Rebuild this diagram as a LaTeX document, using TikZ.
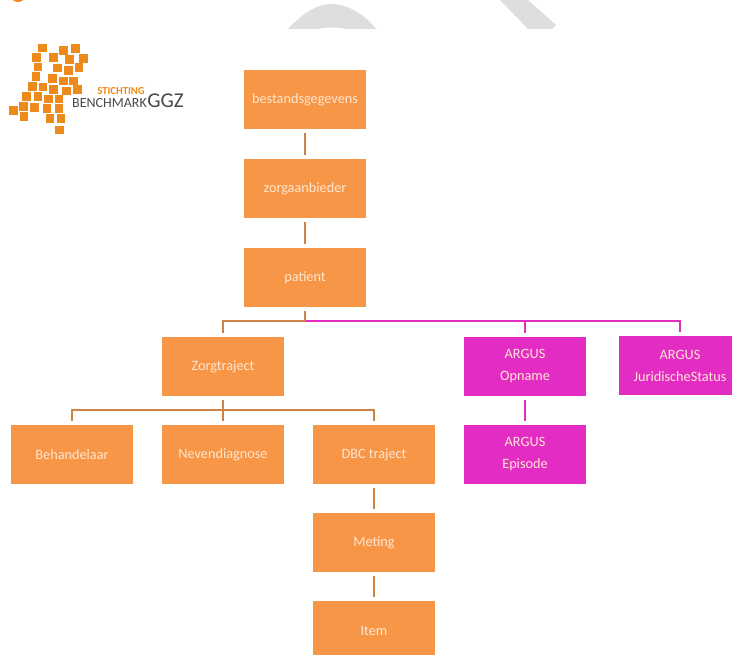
\documentclass[tikz,border=0pt]{standalone}
\usepackage{fontspec}
\setmainfont{Carlito}
\usetikzlibrary{positioning,calc}
\definecolor{boxorange}{HTML}{F79646}
\definecolor{boxmagenta}{HTML}{E22CC4}
\definecolor{linkorange}{HTML}{D08245}
\definecolor{logoorange}{HTML}{EE8A1C}
\definecolor{logogray}{HTML}{4A4A4A}
\definecolor{watermark}{HTML}{DEDEDE}
\definecolor{boxtext}{HTML}{FFE6D2}

\begin{document}
\begin{tikzpicture}[
  x=0.75pt, y=-0.75pt,
  box/.style={minimum width=91.5pt, minimum height=44.25pt, inner sep=0pt, align=center, font=\fontsize{10.7}{16.5}\selectfont, text=boxtext, fill=boxorange},
  argus/.style={box, fill=boxmagenta},
  link/.style={linkorange, line width=2.2pt, shorten <=3pt, shorten >=3pt},
  arguslink/.style={link, boxmagenta},
]
\path[use as bounding box, clip] (0,0) rectangle (732,654);

% Watermark
\fill[watermark] (288,29) .. controls (303,13) and (317,4) .. (331,4) .. controls (346,4) and (364,13) .. (376,29) -- (345,29) .. controls (338,27) and (326,27) .. (318,29) -- cycle;
\fill[watermark] (500,0) -- (528,0) -- (556,25) -- (552,29) -- (528,29) -- cycle;
\fill[logoorange] (18,-6) circle (8);

% Logo
\foreach \x/\y in {127/144,191/152,226/146,109/172,161/172,208/179,250/175,114/201,173/204,205/212,237/202,108/230,158/235,191/243,220/243,98/260,129/261,160/269,199/273,233/269,80/290,114/290,146/297,177/297,71/320,104/323,141/326,177/326,41/332,72/349,150/356,183/356,179/390} {
  \fill[logoorange] ($(\x/3,\y/3)+(-4.2,-4.2)$) rectangle ++(8.4,8.4);
}
\node[font=\fontsize{8}{9}\selectfont\bfseries, text=logoorange, inner sep=0pt] (logotop) at (121,91) {STICHTING};
\node[font=\fontsize{10.5}{11}\selectfont, text=logogray, inner sep=0pt] (logomid) at (109.5,103) {BENCHMARK};
\node[font=\fontsize{15.8}{16}\selectfont, text=logogray, inner sep=0pt, anchor=west] (logoggz) at (147,101) {GGZ};

% Orange boxes
\node[box] (bestand) at (305,99.5) {bestandsgegevens};
\node[box] (zorgaanbieder) at (305,188.5) {zorgaanbieder};
\node[box] (patient) at (305,277.5) {patient};
\node[box] (zorgtraject) at (223,366.5) {Zorgtraject};
\node[box] (behandelaar) at (72,454.5) {Behandelaar};
\node[box] (nevendiagnose) at (223,454.5) {Nevendiagnose};
\node[box] (dbc) at (374,454.5) {DBC traject};
\node[box] (meting) at (374,542.5) {Meting};
\node[box] (item) at (374,630.5) {Item};

% Argus boxes
\node[argus] (opname) at (525,366.5) {ARGUS\\Opname};
\node[argus] (juridisch) at (680,365.5) {ARGUS\\JuridischeStatus};
\node[argus] (episode) at (525,454.5) {ARGUS\\Episode};

% Connectors
\coordinate (patientbus) at (305,321);
\coordinate (zorgbus) at (223,410);
\draw[link] (bestand) -- (zorgaanbieder);
\draw[link] (zorgaanbieder) -- (patient);
\draw[arguslink, shorten <=0pt] (patientbus) -| (opname.north);
\draw[arguslink, shorten <=0pt] (patientbus) -| (juridisch.north);
\draw[link, shorten <=0pt] (patientbus) -| (zorgtraject.north);
\draw[link, shorten >=0pt] (patient.south) -- (patientbus);
\draw[link, shorten >=0pt] (zorgtraject.south) -- (zorgbus);
\draw[link, shorten <=0pt] (zorgbus) -| (behandelaar.north);
\draw[link, shorten <=0pt] (zorgbus) -- (nevendiagnose.north);
\draw[link, shorten <=0pt] (zorgbus) -| (dbc.north);
\draw[link] (dbc) -- (meting);
\draw[link] (meting) -- (item);
\draw[arguslink] (opname) -- (episode);

\end{tikzpicture}
\end{document}
